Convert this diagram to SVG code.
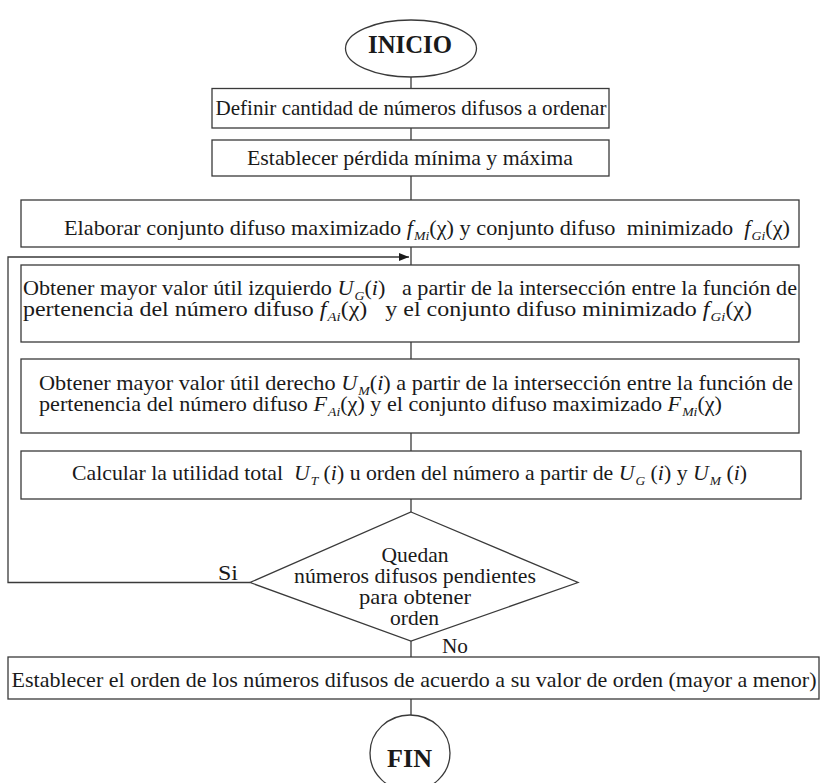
<svg xmlns="http://www.w3.org/2000/svg" width="820" height="783" viewBox="0 0 820 783">
<defs>
<style>
.box{fill:#fff;stroke:#3a3a3a;stroke-width:1.3}
.ln{fill:none;stroke:#3a3a3a;stroke-width:1.3}
.t{fill:#1a1a1a}
.b{font-weight:bold}
.it{font-style:italic}
.sub{font-style:italic}
.c{text-anchor:middle}
</style>
<marker id="arr" markerWidth="10" markerHeight="8" refX="10" refY="4" orient="auto" markerUnits="userSpaceOnUse">
<path d="M0,0 L10,4 L0,8 z" fill="#1a1a1a"/>
</marker>
</defs>
<rect width="820" height="783" fill="#fff"/>
<g id="connectors">
<line class="ln" x1="411" y1="77" x2="411" y2="89"/>
<line class="ln" x1="411" y1="128" x2="411" y2="140"/>
<line class="ln" x1="411" y1="176" x2="411" y2="200"/>
<line class="ln" x1="411" y1="247" x2="411" y2="265"/>
<line class="ln" x1="411" y1="342" x2="411" y2="359"/>
<line class="ln" x1="411" y1="433" x2="411" y2="451"/>
<line class="ln" x1="411" y1="499" x2="411" y2="512"/>
<line class="ln" x1="411" y1="641" x2="411" y2="657"/>
<line class="ln" x1="411" y1="699" x2="411" y2="715"/>
<polyline class="ln" points="250,582.5 8,582.5 8,257 409,257" marker-end="url(#arr)"/>
<text class="t" font-family="Liberation Serif" font-size="22" x="218" y="579.5" textLength="20" lengthAdjust="spacingAndGlyphs">Si</text>
<text class="t" font-family="Liberation Serif" font-size="22" x="442" y="653" textLength="26" lengthAdjust="spacingAndGlyphs">No</text>
</g>
<g id="inicio">
<ellipse cx="411" cy="48.5" rx="65.5" ry="28.5" class="box"/>
<text class="t b c" font-family="Liberation Serif" font-size="26" x="410" y="53" textLength="84" lengthAdjust="spacingAndGlyphs">INICIO</text>
</g>
<g id="definir">
<rect class="box" x="212" y="88.5" width="397" height="39.5"/>
<text class="t" font-family="Liberation Serif" font-size="21" x="215.5" y="114.5" textLength="391" lengthAdjust="spacingAndGlyphs">Definir cantidad de números difusos a ordenar</text>
</g>
<g id="establecer">
<rect class="box" x="212" y="140" width="397" height="36"/>
<text class="t" font-family="Liberation Serif" font-size="21" x="247" y="165" textLength="326" lengthAdjust="spacingAndGlyphs">Establecer pérdida mínima y máxima</text>
</g>
<g id="elaborar">
<rect class="box" x="21" y="200" width="778" height="47"/>
<text class="t" font-family="Liberation Serif" font-size="21" x="64" y="235" textLength="726" lengthAdjust="spacingAndGlyphs" xml:space="preserve">Elaborar conjunto difuso maximizado <tspan class="it">f</tspan><tspan class="sub" font-size="13" dx="1" dy="5">Mi</tspan><tspan dy="-5">(χ) y conjunto difuso  minimizado  </tspan><tspan class="it">f</tspan><tspan class="sub" font-size="13" dx="1" dy="5">Gi</tspan><tspan dy="-5">(χ)</tspan></text>
</g>
<g id="izquierdo">
<rect class="box" x="21" y="265" width="778" height="77"/>
<text class="t" font-family="Liberation Serif" font-size="21" x="23" y="295" textLength="774" lengthAdjust="spacingAndGlyphs" xml:space="preserve">Obtener mayor valor útil izquierdo <tspan class="it">U</tspan><tspan class="sub" font-size="13" dx="1" dy="5">G</tspan><tspan dy="-5">(<tspan class="it">i</tspan>)   a partir de la intersección entre la función de</tspan></text>
<text class="t" font-family="Liberation Serif" font-size="21" x="23" y="316" textLength="729" lengthAdjust="spacingAndGlyphs" xml:space="preserve">pertenencia del número difuso <tspan class="it">f</tspan><tspan class="sub" font-size="13" dx="1" dy="5">Ai</tspan><tspan dy="-5">(χ)   y el conjunto difuso minimizado </tspan><tspan class="it">f</tspan><tspan class="sub" font-size="13" dx="1" dy="5">Gi</tspan><tspan dy="-5">(χ)</tspan></text>
</g>
<g id="derecho">
<rect class="box" x="21" y="359" width="778" height="74"/>
<text class="t" font-family="Liberation Serif" font-size="21" x="39" y="390" textLength="754" lengthAdjust="spacingAndGlyphs" xml:space="preserve">Obtener mayor valor útil derecho <tspan class="it">U</tspan><tspan class="sub" font-size="13" dx="1" dy="5">M</tspan><tspan dy="-5">(<tspan class="it">i</tspan>) a partir de la intersección entre la función de</tspan></text>
<text class="t" font-family="Liberation Serif" font-size="21" x="39" y="411" textLength="683" lengthAdjust="spacingAndGlyphs" xml:space="preserve">pertenencia del número difuso <tspan class="it">F</tspan><tspan class="sub" font-size="13" dx="1" dy="5">Ai</tspan><tspan dy="-5">(χ) y el conjunto difuso maximizado </tspan><tspan class="it">F</tspan><tspan class="sub" font-size="13" dx="1" dy="5">Mi</tspan><tspan dy="-5">(χ)</tspan></text>
</g>
<g id="calcular">
<rect class="box" x="21" y="451" width="780" height="48"/>
<text class="t" font-family="Liberation Serif" font-size="21" x="72" y="480" textLength="675" lengthAdjust="spacingAndGlyphs" xml:space="preserve">Calcular la utilidad total  <tspan class="it">U</tspan><tspan class="sub" font-size="13" dx="1" dy="5">T</tspan><tspan dy="-5"> (<tspan class="it">i</tspan>) u orden del número a partir de </tspan><tspan class="it">U</tspan><tspan class="sub" font-size="13" dx="1" dy="5">G</tspan><tspan dy="-5"> (<tspan class="it">i</tspan>) y </tspan><tspan class="it">U</tspan><tspan class="sub" font-size="13" dx="1" dy="5">M</tspan><tspan dy="-5"> (<tspan class="it">i</tspan>)</tspan></text>
</g>
<g id="decision">
<polygon class="box" points="411,512 578,582.5 411,641 250,582.5"/>
<text class="t c" font-family="Liberation Serif" font-size="21" x="415" y="562" textLength="67" lengthAdjust="spacingAndGlyphs">Quedan</text>
<text class="t c" font-family="Liberation Serif" font-size="21" x="415" y="583" textLength="242" lengthAdjust="spacingAndGlyphs">números difusos pendientes</text>
<text class="t c" font-family="Liberation Serif" font-size="21" x="415" y="604" textLength="112" lengthAdjust="spacingAndGlyphs">para obtener</text>
<text class="t c" font-family="Liberation Serif" font-size="21" x="414.5" y="625" textLength="49" lengthAdjust="spacingAndGlyphs">orden</text>
</g>
<g id="orden">
<rect class="box" x="8" y="657" width="811" height="42"/>
<text class="t" font-family="Liberation Serif" font-size="21" x="11.5" y="687" textLength="805" lengthAdjust="spacingAndGlyphs">Establecer el orden de los números difusos de acuerdo a su valor de orden (mayor a menor)</text>
</g>
<g id="fin">
<ellipse cx="410" cy="753" rx="40" ry="38" class="box"/>
<text class="t b c" font-family="Liberation Serif" font-size="26" x="409.5" y="767" textLength="45" lengthAdjust="spacingAndGlyphs">FIN</text>
</g>
</svg>
